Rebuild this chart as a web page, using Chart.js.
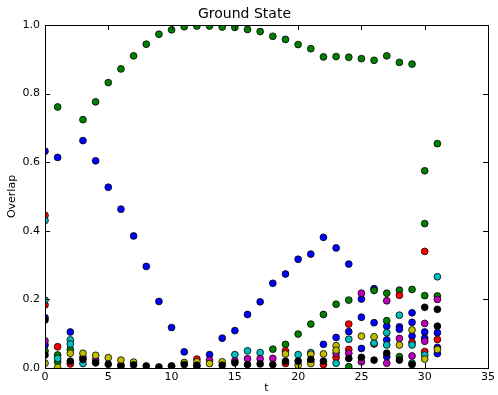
<!DOCTYPE html>
<html>
<head>
<meta charset="utf-8">
<script src="https://cdn.jsdelivr.net/npm/chart.js@4/dist/chart.umd.min.js"></script>
<style>
  html, body { margin: 0; padding: 0; background: #fff; }
  canvas { display: block; }
</style>
</head>
<body>
<canvas id="chart" width="498" height="395"></canvas>
<script>
// overlap of each state with the ground state as [t, overlap]
const blueOverlap = [
  [0, 0.632], [0, 0.147], [0, 0.067], [1, 0.614], [2, 0.105], [3, 0.663], [4, 0.604],
  [5, 0.527], [6, 0.463], [7, 0.385], [8, 0.296], [9, 0.194], [10, 0.118], [11, 0.047],
  [12, 0.005], [13, 0.039], [14, 0.087], [15, 0.109], [16, 0.156], [17, 0.193],
  [18, 0.247], [19, 0.274], [20, 0.317], [21, 0.332], [22, 0.381], [22, 0.069],
  [23, 0.35], [23, 0.089], [24, 0.303], [24, 0.106], [25, 0.201], [25, 0.148], [25, 0.057],
  [26, 0.231], [26, 0.132], [27, 0.122], [27, 0.082], [27, 0.033], [28, 0.12], [28, 0.113],
  [29, 0.161], [29, 0.133], [29, 0.093], [30, 0.105], [30, 0.087],
  [31, 0.103], [31, 0.06], [31, 0.042]
];
const greenOverlap = [
  [1, 0.761], [3, 0.724], [4, 0.776], [5, 0.832], [6, 0.872], [7, 0.91], [8, 0.944],
  [9, 0.973], [10, 0.986], [11, 0.995], [12, 0.997], [13, 0.997], [14, 0.994], [15, 0.993],
  [16, 0.987], [17, 0.981], [18, 0.967], [19, 0.958], [20, 0.943], [21, 0.931], [22, 0.907],
  [23, 0.908], [24, 0.906], [25, 0.902], [26, 0.897], [27, 0.91], [28, 0.891], [29, 0.886],
  [30, 0.575], [30, 0.421], [31, 0.654],
  [0, 0.05], [1, 0.038], [1, 0.018], [2, 0.054], [18, 0.055], [19, 0.069], [20, 0.099],
  [21, 0.128], [22, 0.156], [23, 0.186], [24, 0.198], [24, 0.004], [26, 0.226],
  [27, 0.218], [27, 0.138], [28, 0.227], [28, 0.033], [29, 0.229], [30, 0.211], [31, 0.21]
];
const redOverlap = [
  [0, 0.445], [0, 0.184], [1, 0.062], [2, 0.012], [10, 0.005], [12, 0.026], [19, 0.05],
  [19, 0.013], [22, 0.01], [23, 0.031], [24, 0.128], [24, 0.054], [26, 0.07], [28, 0.212],
  [29, 0.075], [30, 0.34], [30, 0.048], [31, 0.083]
];
const cyanOverlap = [
  [0, 0.43], [0, 0.198], [1, 0.028], [2, 0.082], [2, 0.07], [3, 0.013], [15, 0.039],
  [16, 0.05], [17, 0.045], [20, 0.039], [21, 0.045], [23, 0.014], [24, 0.084], [26, 0.073],
  [27, 0.103], [27, 0.067], [28, 0.154], [29, 0.067], [29, 0.014], [30, 0.038], [31, 0.266]
];
const magentaOverlap = [
  [0, 0.079], [3, 0.031], [4, 0.023], [6, 0.009], [13, 0.023], [15, 0.021], [16, 0.027],
  [17, 0.027], [18, 0.028], [21, 0.02], [23, 0.043], [24, 0.043], [25, 0.218], [25, 0.018],
  [27, 0.196], [27, 0.014], [28, 0.086], [29, 0.035], [30, 0.13], [30, 0.078], [31, 0.2]
];
const yellowOverlap = [
  [0, 0.014], [1, 0.002], [2, 0.043], [3, 0.043], [4, 0.037], [5, 0.03], [6, 0.023],
  [7, 0.017], [11, 0.016], [12, 0.018], [13, 0.013], [14, 0.018], [19, 0.041], [20, 0.008],
  [21, 0.04], [21, 0.013], [22, 0.041], [23, 0.065], [23, 0.052], [25, 0.093], [26, 0.091],
  [28, 0.067], [29, 0.111], [30, 0.026], [31, 0.054]
];
const blackOverlap = [
  [0, 0.14], [0, 0.038], [2, 0.02], [3, 0.025], [4, 0.015], [5, 0.011], [6, 0.005],
  [7, 0.009], [8, 0.006], [9, 0.003], [10, 0.006], [11, 0.01], [12, 0.008], [14, 0.008],
  [15, 0.015], [16, 0.01], [17, 0.012], [18, 0.01], [19, 0.02], [20, 0.02], [21, 0.025],
  [22, 0.02], [24, 0.028], [25, 0.031], [26, 0.023], [27, 0.043], [28, 0.023], [29, 0.01],
  [30, 0.177], [31, 0.171], [31, 0.122]
];

const xTicks = [0, 5, 10, 15, 20, 25, 30, 35];
const yTicks = [0, 0.2, 0.4, 0.6, 0.8, 1.0];

const FONT = 'DejaVu Sans';

const toPoints = pairs => pairs.map(([t, v]) => ({ x: t, y: v }));

// first dataset ends up on top in Chart.js
const series = [
  { color: '#000000', values: blackOverlap },
  { color: '#bfbf00', values: yellowOverlap },
  { color: '#bf00bf', values: magentaOverlap },
  { color: '#00bfbf', values: cyanOverlap },
  { color: '#ff0000', values: redOverlap },
  { color: '#008000', values: greenOverlap },
  { color: '#0000ff', values: blueOverlap },
];

// matplotlib-style frame: box on all sides, ticks pointing inward
const frame = {
  id: 'frame',
  afterDatasetsDraw(chart) {
    const { ctx, chartArea: a, scales: { x, y } } = chart;
    const len = 5;
    ctx.save();
    ctx.strokeStyle = '#000';
    ctx.lineWidth = 1;
    ctx.beginPath();
    xTicks.forEach(v => {
      const px = Math.round(x.getPixelForValue(v)) + 0.5;
      ctx.moveTo(px, a.bottom); ctx.lineTo(px, a.bottom - len);
      ctx.moveTo(px, a.top); ctx.lineTo(px, a.top + len);
    });
    yTicks.forEach(v => {
      const py = Math.round(y.getPixelForValue(v)) + 0.5;
      ctx.moveTo(a.left, py); ctx.lineTo(a.left + len, py);
      ctx.moveTo(a.right, py); ctx.lineTo(a.right - len, py);
    });
    ctx.stroke();
    ctx.strokeRect(Math.round(a.left) + 0.5, Math.round(a.top) + 0.5,
      Math.round(a.right - a.left), Math.round(a.bottom - a.top));
    ctx.restore();
  }
};

new Chart(document.getElementById('chart'), {
  type: 'scatter',
  data: {
    datasets: series.map(s => ({
      data: toPoints(s.values),
      backgroundColor: s.color,
      borderColor: '#000',
      borderWidth: 0.8,
      pointRadius: 3.4,
      pointHoverRadius: 3.4,
      clip: 0,
    })),
  },
  options: {
    responsive: false,
    animation: false,
    devicePixelRatio: 1,
    layout: { padding: { left: 0, right: 9, top: 0, bottom: 0 } },
    events: [],
    plugins: {
      legend: { display: false },
      tooltip: { enabled: false },
      title: {
        display: true,
        text: 'Ground State',
        color: '#000',
        font: { family: FONT, size: 14, weight: 'normal' },
        padding: { top: 6, bottom: 2.2 },
      },
    },
    scales: {
      x: {
        type: 'linear',
        min: 0,
        max: 35,
        afterBuildTicks: scale => { scale.ticks = xTicks.map(v => ({ value: v })); },
        afterFit: scale => { scale.height = 27; },
        grid: { display: false, drawTicks: false },
        border: { display: false },
        ticks: {
          color: '#000',
          padding: 3,
          maxRotation: 0,
          font: { family: FONT, size: 11 },
        },
        title: {
          display: true,
          text: 't',
          color: '#000',
          padding: { top: 0, bottom: 0 },
          font: { family: FONT, size: 11 },
        },
      },
      y: {
        type: 'linear',
        min: 0,
        max: 1,
        afterBuildTicks: scale => { scale.ticks = yTicks.map(v => ({ value: v })); },
        afterFit: scale => { scale.width = 45; },
        grid: { display: false, drawTicks: false },
        border: { display: false },
        ticks: {
          color: '#000',
          padding: 5,
          font: { family: FONT, size: 11 },
          callback: v => v.toFixed(1),
        },
        title: {
          display: true,
          text: 'Overlap',
          color: '#000',
          padding: { top: 6, bottom: 0 },
          font: { family: FONT, size: 11 },
        },
      },
    },
  },
  plugins: [frame],
});
</script>
</body>
</html>
